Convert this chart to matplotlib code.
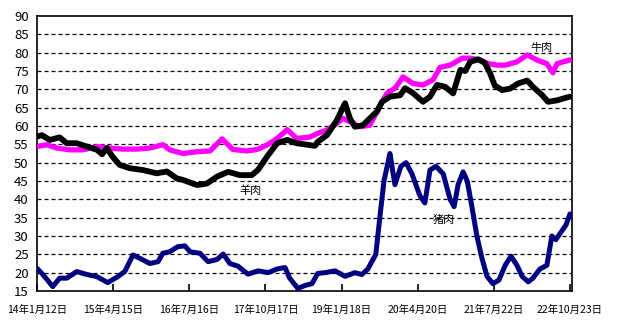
import pandas as pd
import matplotlib
matplotlib.use("Agg")
import matplotlib.pyplot as plt

plt.rcParams['font.family'] = ['Liberation Sans Narrow', 'Noto Sans CJK SC', 'DejaVu Sans']

# x axis labels
tick_dates = ['2014-01-12', '2015-04-15', '2016-07-16', '2017-10-17',
              '2019-01-18', '2020-04-20', '2021-07-22', '2022-10-23']
tick_labels = ['14年1月12日', '15年4月15日', '16年7月16日', '17年10月17日',
               '19年1月18日', '20年4月20日', '21年7月22日', '22年10月23日']

# pork (猪肉)
pork_dates = ['2014-01-12', '2014-02-18', '2014-04-17', '2014-05-28', '2014-07-10',
              '2014-09-08', '2014-11-08', '2015-01-08', '2015-03-13', '2015-05-06',
              '2015-06-24', '2015-08-12', '2015-09-23', '2015-11-22', '2016-01-10',
              '2016-02-08', '2016-03-20', '2016-05-08', '2016-06-20', '2016-07-20',
              '2016-09-18', '2016-11-06', '2016-12-30', '2017-02-05', '2017-03-17',
              '2017-05-04', '2017-07-04', '2017-09-03', '2017-11-02', '2017-12-26',
              '2018-02-12', '2018-03-12', '2018-04-30', '2018-06-12', '2018-07-24',
              '2018-08-28', '2018-10-10', '2018-12-10', '2019-02-08', '2019-04-08',
              '2019-05-20', '2019-06-25', '2019-08-12', '2019-09-05', '2019-09-30',
              '2019-10-24', '2019-11-05', '2019-12-05', '2020-01-10', '2020-02-10',
              '2020-03-16', '2020-05-03', '2020-06-02', '2020-07-03', '2020-08-08',
              '2020-09-20', '2020-11-01', '2020-11-25', '2020-12-19', '2021-01-18',
              '2021-02-12', '2021-03-12', '2021-04-11', '2021-05-11', '2021-06-11',
              '2021-07-16', '2021-08-22', '2021-09-28', '2021-11-02', '2021-12-08',
              '2022-01-08', '2022-02-14', '2022-03-14', '2022-04-25', '2022-06-06',
              '2022-07-06', '2022-07-30', '2022-08-29', '2022-09-29', '2022-10-23']
pork = [21.2, 19.4, 16.2, 18.5, 18.5, 20.3, 19.5, 18.9, 17.3, 18.7,
        20.3, 24.8, 23.9, 22.5, 23.0, 25.3, 25.7, 27.1, 27.3, 25.7,
        25.3, 23.0, 23.6, 25.1, 22.5, 21.8, 19.6, 20.5, 20.0, 21.0,
        21.4, 18.5, 15.7, 16.5, 17.0, 19.8, 20.0, 20.5, 19.0, 20.0,
        19.5, 21.0, 25.0, 35.0, 45.0, 50.0, 52.5, 44.0, 49.0, 50.0,
        47.0, 41.0, 39.0, 48.0, 49.0, 47.0, 40.0, 38.0, 44.0, 47.5,
        45.0, 38.0, 30.0, 24.0, 19.0, 17.0, 18.0, 22.0, 24.5, 22.0,
        19.0, 17.5, 18.5, 21.0, 22.0, 30.0, 29.0, 31.0, 33.0, 36.0]

# beef (牛肉)
beef_dates = ['2014-01-12', '2014-03-11', '2014-05-10', '2014-07-28', '2014-10-15',
              '2015-01-08', '2015-03-25', '2015-06-12', '2015-09-04', '2015-11-22',
              '2016-02-08', '2016-03-20', '2016-06-08', '2016-08-31', '2016-11-18',
              '2017-01-29', '2017-04-04', '2017-06-28', '2017-08-27', '2017-10-26',
              '2017-12-26', '2018-02-25', '2018-04-24', '2018-07-11', '2018-08-28',
              '2018-10-22', '2018-12-21', '2019-01-27', '2019-03-09', '2019-05-08',
              '2019-07-07', '2019-08-24', '2019-10-18', '2019-12-05', '2020-01-23',
              '2020-03-22', '2020-05-22', '2020-07-21', '2020-09-01', '2020-11-01',
              '2021-01-13', '2021-03-02', '2021-04-29', '2021-06-17', '2021-08-11',
              '2021-09-28', '2021-12-08', '2022-02-08', '2022-04-07', '2022-06-06',
              '2022-07-12', '2022-08-06', '2022-09-12', '2022-10-23']
beef = [54.4, 54.9, 54.0, 53.5, 53.5, 54.4, 54.0, 53.7, 53.7, 54.0,
        54.9, 53.5, 52.5, 53.0, 53.2, 56.5, 53.6, 53.2, 53.6, 54.8,
        56.6, 59.0, 56.6, 57.0, 58.0, 58.9, 60.7, 62.1, 61.2, 59.8,
        60.2, 64.4, 68.9, 70.3, 73.4, 71.6, 71.2, 72.6, 76.0, 76.6,
        78.5, 78.5, 78.0, 77.0, 76.6, 76.6, 77.5, 79.4, 78.0, 77.0,
        74.5, 77.0, 77.5, 78.0]

# mutton (羊肉)
mutton_dates = ['2014-01-12', '2014-02-11', '2014-03-29', '2014-05-28', '2014-07-10',
                '2014-09-08', '2014-11-08', '2015-01-08', '2015-02-07', '2015-03-08',
                '2015-04-12', '2015-05-24', '2015-07-23', '2015-10-10', '2016-01-02',
                '2016-03-03', '2016-05-02', '2016-06-08', '2016-08-31', '2016-10-30',
                '2016-12-30', '2017-03-07', '2017-05-16', '2017-07-27', '2017-09-02',
                '2017-10-26', '2017-12-26', '2018-02-25', '2018-04-24', '2018-06-23',
                '2018-08-11', '2018-08-28', '2018-10-22', '2018-12-21', '2019-02-08',
                '2019-03-09', '2019-04-08', '2019-05-26', '2019-07-07', '2019-08-18',
                '2019-09-18', '2019-11-05', '2020-01-05', '2020-02-04', '2020-03-22',
                '2020-05-22', '2020-07-03', '2020-08-14', '2020-10-02', '2020-11-19',
                '2021-01-01', '2021-01-31', '2021-03-02', '2021-04-18', '2021-05-29',
                '2021-06-29', '2021-07-28', '2021-09-10', '2021-10-27', '2021-12-15',
                '2022-02-08', '2022-03-14', '2022-05-07', '2022-06-13', '2022-08-06',
                '2022-09-12', '2022-10-23']
mutton = [57.1, 57.5, 56.2, 56.9, 55.3, 55.3, 54.4, 53.5, 52.3, 54.0,
          51.6, 49.4, 48.5, 48.0, 47.1, 47.6, 45.7, 45.3, 43.9, 44.3,
          46.2, 47.5, 46.6, 46.6, 48.0, 51.6, 55.3, 56.2, 55.3, 54.9,
          54.6, 55.7, 57.5, 61.6, 66.2, 62.1, 59.8, 60.2, 62.1, 63.9,
          66.6, 68.0, 68.4, 70.3, 69.0, 66.6, 68.0, 71.2, 70.7, 68.9,
          75.3, 75.0, 77.5, 78.2, 77.2, 74.4, 71.0, 69.8, 70.2, 71.6,
          72.4, 70.7, 68.5, 66.6, 67.0, 67.5, 68.0]

fig = plt.figure(figsize=(6.23, 3.28), dpi=100)
ax = fig.add_axes([0.0594, 0.1128, 0.8587, 0.8384])

ax.plot(pd.to_datetime(pork_dates), pork, color='#000080', lw=3.6,
        solid_joinstyle='round', solid_capstyle='round', zorder=3)
ax.plot(pd.to_datetime(beef_dates), beef, color='#ff00ff', lw=3.8,
        solid_joinstyle='round', solid_capstyle='round', zorder=3)
ax.plot(pd.to_datetime(mutton_dates), mutton, color='black', lw=4.2,
        solid_joinstyle='round', solid_capstyle='round', zorder=4)

ax.set_ylim(15, 90)
ax.set_yticks(range(15, 95, 5))
ax.set_xlim(pd.Timestamp('2014-01-12'), pd.Timestamp('2022-11-04'))
ax.set_xticks(pd.to_datetime(tick_dates))
ax.set_xticklabels(tick_labels)

for v in range(20, 90, 5):
    ax.axhline(v, color='black', lw=0.9, ls=(0, (3.2, 2.4)), zorder=1)

for s in ax.spines.values():
    s.set_linewidth(1.2)
ax.tick_params(axis='y', length=0, pad=6, labelsize=9.5)
ax.tick_params(axis='x', direction='in', length=5, width=1.2, pad=10, labelsize=7.5)

ax.text(pd.Timestamp('2022-03-01'), 80.5, '牛肉', fontsize=8, family=['Noto Sans CJK SC'])
ax.text(pd.Timestamp('2017-05-15'), 41.5, '羊肉', fontsize=8, family=['Noto Sans CJK SC'])
ax.text(pd.Timestamp('2020-07-20'), 33.5, '猪肉', fontsize=8, family=['Noto Sans CJK SC'])

fig.savefig('out.png', dpi=100)
